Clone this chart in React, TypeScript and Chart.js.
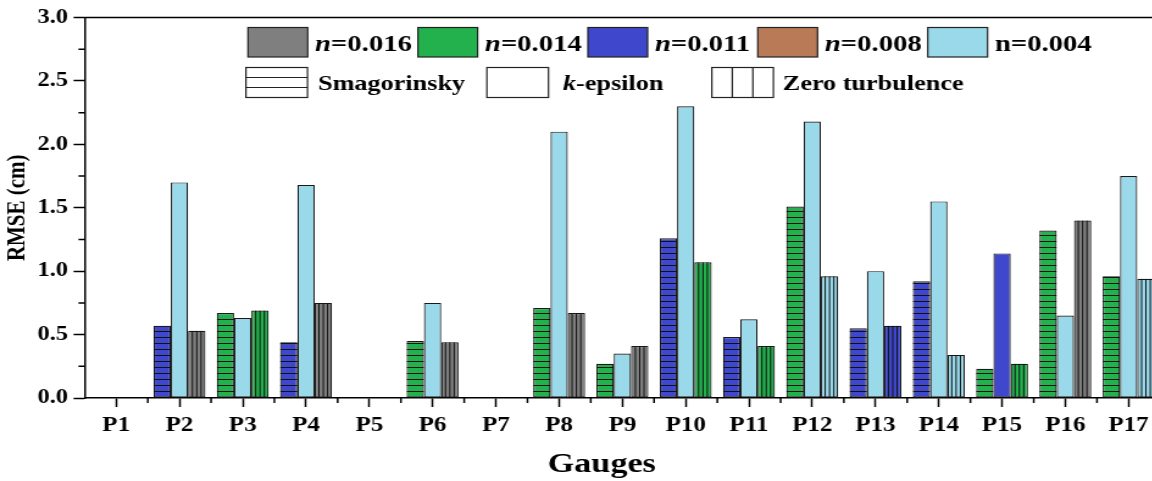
import { useEffect, useRef } from 'react';
import { Chart, registerables } from 'chart.js';

Chart.register(...registerables);

// Gauge stations
const gauges = ['P1', 'P2', 'P3', 'P4', 'P5', 'P6', 'P7', 'P8', 'P9', 'P10', 'P11', 'P12', 'P13', 'P14', 'P15', 'P16', 'P17'];

// Manning roughness values and their fill colours
const manningN = ['0.016', '0.014', '0.011', '0.008', '0.004'];
const manningColors = ['#7F7F7F', '#22B14C', '#3F48CC', '#B97A57', '#99D9EA'];

// Turbulence models
const models = ['Smagorinsky', 'k-epsilon', 'Zero turbulence'];

// RMSE (cm) per gauge for each model, and the Manning n of that run
const smagorinskyRmse = [null, 0.57, 0.67, 0.44, null, 0.45, null, 0.71, 0.27, 1.26, 0.48, 1.51, 0.55, 0.92, 0.23, 1.32, 0.96];
const smagorinskyN = [null, '0.011', '0.014', '0.011', null, '0.014', null, '0.014', '0.014', '0.011', '0.011', '0.014', '0.011', '0.011', '0.014', '0.014', '0.014'];
const kEpsilonRmse = [null, 1.7, 0.63, 1.68, null, 0.75, null, 2.1, 0.35, 2.3, 0.62, 2.18, 1.0, 1.55, 1.14, 0.65, 1.75];
const kEpsilonN = [null, '0.004', '0.004', '0.004', null, '0.004', null, '0.004', '0.004', '0.004', '0.004', '0.004', '0.004', '0.004', '0.011', '0.004', '0.004'];
const zeroRmse = [null, 0.53, 0.69, 0.75, null, 0.44, null, 0.67, 0.41, 1.07, 0.41, 0.96, 0.57, 0.34, 0.27, 1.4, 0.94];
const zeroN = [null, '0.016', '0.014', '0.016', null, '0.016', null, '0.016', '0.016', '0.014', '0.014', '0.004', '0.011', '0.004', '0.014', '0.016', '0.004'];

// Axis range
const yMin = 0;
const yMax = 3;
const yStep = 0.5;

// The figure is drawn on a narrower canvas and widened horizontally by CSS
const STRETCH = 1.22;
const CANVAS_W = 956;
const CANVAS_H = 481;
const FONT = '"Liberation Serif", "Times New Roman", serif';

const colorOf = (n: string | null) => (n == null ? 'rgba(0,0,0,0)' : manningColors[manningN.indexOf(n)]);

function drawRich(ctx: CanvasRenderingContext2D, parts: { t: string; italic?: boolean }[], x: number, y: number, size: number) {
  let cx = x;
  for (const p of parts) {
    ctx.font = `${p.italic ? 'italic ' : ''}bold ${size}px ${FONT}`;
    ctx.fillText(p.t, cx, y);
    cx += ctx.measureText(p.t).width;
  }
}

const decorPlugin = {
  id: 'decor',
  afterDatasetsDraw(chart: any) {
    const ctx: CanvasRenderingContext2D = chart.ctx;
    chart.data.datasets.forEach((ds: any, di: number) => {
      if (!ds.hatch) return;
      const meta = chart.getDatasetMeta(di);
      meta.data.forEach((bar: any, i: number) => {
        if (ds.data[i] == null) return;
        const { x, y, base, width } = bar.getProps(['x', 'y', 'base', 'width'], true);
        const left = x - width / 2;
        const right = x + width / 2;
        ctx.save();
        ctx.beginPath();
        ctx.rect(left, y, width, base - y);
        ctx.clip();
        ctx.strokeStyle = '#111';
        ctx.lineWidth = 1;
        ctx.beginPath();
        if (ds.hatch === 'h') {
          for (let py = base - 6; py > y + 1; py -= 6) {
            ctx.moveTo(left, py);
            ctx.lineTo(right, py);
          }
        } else {
          for (let k = 1; k < 4; k++) {
            const px = left + (width * k) / 4;
            ctx.moveTo(px, y);
            ctx.lineTo(px, base);
          }
        }
        ctx.stroke();
        ctx.restore();
      });
    });
  },
  afterDraw(chart: any) {
    const ctx: CanvasRenderingContext2D = chart.ctx;
    const { left, right, top, bottom } = chart.chartArea;
    const xs = chart.scales.x;
    const ys = chart.scales.y;
    ctx.save();
    ctx.strokeStyle = '#000';
    ctx.lineWidth = 1.5;
    // frame top and right
    ctx.beginPath();
    ctx.moveTo(left, top);
    ctx.lineTo(right, top);
    ctx.lineTo(right, bottom);
    ctx.stroke();
    // minor ticks
    ctx.beginPath();
    for (let i = 0; i < gauges.length; i++) {
      const px = xs.getPixelForValue(i + 0.5);
      ctx.moveTo(px, bottom);
      ctx.lineTo(px, bottom + 5);
    }
    for (let v = yMin + yStep / 2; v < yMax; v += yStep) {
      const py = ys.getPixelForValue(v);
      ctx.moveTo(left, py);
      ctx.lineTo(left - 5, py);
    }
    ctx.stroke();

    // legend: Manning n colours
    ctx.textBaseline = 'alphabetic';
    ctx.textAlign = 'left';
    const row1X = [203.3, 342.6, 482, 621.3, 760.7];
    manningN.forEach((n, i) => {
      const sx = row1X[i];
      ctx.fillStyle = manningColors[i];
      ctx.fillRect(sx, 27.5, 49, 29.5);
      ctx.lineWidth = 1.2;
      ctx.strokeStyle = '#222';
      ctx.strokeRect(sx, 27.5, 49, 29.5);
      ctx.fillStyle = '#000';
      const last = i === manningN.length - 1;
      drawRich(ctx, [{ t: 'n', italic: !last }, { t: '=' + n }], sx + 55, 50.5, 23.5);
    });

    // legend: turbulence model patterns
    const row2X = [201.6, 399.2, 583.6];
    const row2T = [260.7, 461.5, 641.8];
    models.forEach((m, i) => {
      const sx = row2X[i];
      const sw = 50.5;
      const sy = 67.5;
      const sh = 30;
      ctx.fillStyle = '#fff';
      ctx.fillRect(sx, sy, sw, sh);
      ctx.strokeStyle = '#222';
      ctx.lineWidth = 1.2;
      ctx.strokeRect(sx, sy, sw, sh);
      ctx.beginPath();
      if (i === 0) {
        for (let k = 1; k < 3; k++) {
          ctx.moveTo(sx, sy + (sh * k) / 3);
          ctx.lineTo(sx + sw, sy + (sh * k) / 3);
        }
      } else if (i === 2) {
        for (let k = 1; k < 3; k++) {
          ctx.moveTo(sx + (sw * k) / 3, sy);
          ctx.lineTo(sx + (sw * k) / 3, sy + sh);
        }
      }
      ctx.stroke();
      ctx.fillStyle = '#000';
      const parts = m.startsWith('k-') ? [{ t: 'k', italic: true }, { t: m.slice(1) }] : [{ t: m }];
      drawRich(ctx, parts, row2T[i], 89.5, 21.5);
    });

    // x axis title
    ctx.font = `bold 28px ${FONT}`;
    ctx.textAlign = 'center';
    ctx.fillText('Gauges', 493.4, 472);
    ctx.restore();
  },
};

export default function App() {
  const ref = useRef<HTMLCanvasElement>(null);

  useEffect(() => {
    const canvas = ref.current;
    if (!canvas) return;
    const chart = new Chart(canvas, {
      type: 'bar',
      data: {
        labels: gauges,
        datasets: [
          { label: models[0], data: smagorinskyRmse, backgroundColor: smagorinskyN.map(colorOf), hatch: 'h' } as any,
          { label: models[1], data: kEpsilonRmse, backgroundColor: kEpsilonN.map(colorOf) } as any,
          { label: models[2], data: zeroRmse, backgroundColor: zeroN.map(colorOf), hatch: 'v' } as any,
        ],
      },
      options: {
        responsive: false,
        animation: false,
        devicePixelRatio: 1,
        events: [],
        layout: { padding: { left: 0, top: 17.5, right: 4.7, bottom: 0 } },
        datasets: {
          bar: {
            borderColor: '#1a1a1a',
            borderWidth: 1.2,
            borderSkipped: false,
            barPercentage: 1,
            categoryPercentage: 0.82,
          },
        },
        plugins: {
          legend: { display: false },
          tooltip: { enabled: false },
        },
        scales: {
          x: {
            type: 'category',
            offset: true,
            grid: { offset: false, drawOnChartArea: false, drawTicks: true, tickLength: 9, tickWidth: 1.5, tickColor: '#000' },
            border: { display: true, color: '#000', width: 1.5 },
            ticks: { color: '#000', font: { family: FONT, size: 20.5, weight: 'bold' }, padding: 6, maxRotation: 0, autoSkip: false },
            afterFit: (s: any) => {
              s.height = CANVAS_H - 398;
            },
          },
          y: {
            min: yMin,
            max: yMax,
            grid: { drawOnChartArea: false, drawTicks: true, tickLength: 9, tickWidth: 1.5, tickColor: '#000' },
            border: { display: true, color: '#000', width: 1.5 },
            ticks: {
              stepSize: yStep,
              color: '#000',
              padding: 4.6,
              font: { family: FONT, size: 20, weight: 'bold' },
              callback: (v: any) => Number(v).toFixed(1),
            },
            title: {
              display: true,
              text: 'RMSE (cm)',
              color: '#000',
              font: { family: FONT, size: 21, weight: 'bold' },
              padding: { top: 2, bottom: 0 },
            },
            afterFit: (s: any) => {
              s.width = 69.3;
            },
          },
        },
      },
      plugins: [decorPlugin],
    });
    return () => chart.destroy();
  }, []);

  return (
    <div style={{ position: 'fixed', left: 0, top: 0, width: 1152, height: 481, overflow: 'hidden', background: '#fff' }}>
      <canvas
        ref={ref}
        width={CANVAS_W}
        height={CANVAS_H}
        style={{ display: 'block', width: `${CANVAS_W * STRETCH}px`, height: `${CANVAS_H}px` }}
      />
    </div>
  );
}
